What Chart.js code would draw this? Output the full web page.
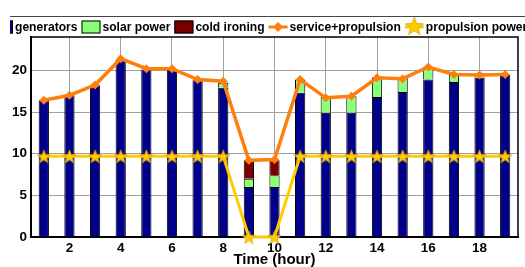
<!DOCTYPE html>
<html>
<head>
<meta charset="utf-8">
<script src="https://cdn.jsdelivr.net/npm/chart.js@4"></script>
<style>
html, body { margin: 0; padding: 0; background: #fff; }
#wrap { width: 525px; height: 267px; }
</style>
</head>
<body>
<div id="wrap"><canvas id="myChart" width="525" height="267"></canvas></div>
<script>
'use strict';
let hours = ['1', '2', '3', '4', '5', '6', '7', '8', '9', '10', '11', '12', '13', '14', '15', '16', '17', '18', '19'];
let generators = [16.4, 17.0, 18.2, 21.3, 20.1, 20.2, 18.8, 17.9, 6.0, 6.0, 17.3, 14.9, 14.9, 16.8, 17.4, 18.9, 18.6, 19.1, 19.5];
let solarPower = [0, 0, 0, 0, 0, 0, 0, 0.6, 1.0, 1.4, 1.6, 1.9, 2.0, 2.3, 1.7, 1.5, 0.9, 0.3, 0];
let coldIroning = [0, 0, 0, 0, 0, 0, 0, 0, 2.2, 1.8, 0, 0, 0, 0, 0, 0, 0, 0, 0];
let servicePropulsion = [16.4, 17.0, 18.25, 21.4, 20.2, 20.2, 18.9, 18.7, 9.2, 9.3, 18.9, 16.7, 16.9, 19.1, 19.0, 20.4, 19.5, 19.45, 19.5];
let propulsionPower = [9.7, 9.7, 9.7, 9.7, 9.7, 9.7, 9.7, 9.7, 0, 0, 9.7, 9.7, 9.7, 9.7, 9.7, 9.7, 9.7, 9.7, 9.7];
let yTicks = [0, 5, 10, 15, 20];

Chart.defaults.font.family = '"Liberation Sans", Arial, sans-serif';
Chart.defaults.color = '#000';

function makeStar(size, fill, stroke) {
    let c = document.createElement('canvas');
    c.width = size;
    c.height = size;
    let g = c.getContext('2d');
    let r = size / 2 - 0.5;
    let r2 = r * 0.42;
    g.beginPath();
    for (let i = 0; i < 10; i++) {
        let a = -Math.PI / 2 + i * Math.PI / 5;
        let rr = i % 2 ? r2 : r;
        g.lineTo(size / 2 + rr * Math.cos(a), size / 2 + rr * Math.sin(a) + 0.8);
    }
    g.closePath();
    g.fillStyle = fill;
    g.fill();
    g.strokeStyle = stroke;
    g.lineWidth = 0.8;
    g.stroke();
    return c;
}
let starImg = makeStar(15, '#ffcc00', '#d9a300');

// legend drawn on the canvas so the items can run off the edges like the original
let legendPlugin = {
    id: 'oldLegend',
    afterDraw(chart) {
        let ctx = chart.ctx;
        ctx.save();
        ctx.strokeStyle = '#444';
        ctx.lineWidth = 1;
        ctx.beginPath();
        ctx.moveTo(10, 16.5);
        ctx.lineTo(525, 16.5);
        ctx.stroke();
        ctx.beginPath();
        ctx.rect(10, 17, 515, 19);
        ctx.clip();
        ctx.font = 'bold 12.1px "Liberation Sans", Arial, sans-serif';
        ctx.textBaseline = 'middle';
        let x = -6;
        let cy = 27;
        chart.data.datasets.forEach(function (ds) {
            if (ds.type === 'line') {
                ctx.strokeStyle = ds.borderColor;
                ctx.lineWidth = 3;
                ctx.beginPath();
                ctx.moveTo(x, cy);
                ctx.lineTo(x + 19, cy);
                ctx.stroke();
                if (ds.pointStyle === 'rectRot') {
                    ctx.fillStyle = ds.borderColor;
                    ctx.beginPath();
                    ctx.moveTo(x + 9.5, cy - 5);
                    ctx.lineTo(x + 14.5, cy);
                    ctx.lineTo(x + 9.5, cy + 5);
                    ctx.lineTo(x + 4.5, cy);
                    ctx.closePath();
                    ctx.fill();
                } else {
                    let big = makeStar(20, '#ffcc00', '#d9a300');
                    ctx.drawImage(big, x - 0.5, cy - 11);
                }
            } else {
                ctx.fillStyle = ds.backgroundColor;
                ctx.fillRect(x, cy - 6.5, 19, 13);
                ctx.strokeStyle = '#000';
                ctx.lineWidth = 1;
                ctx.strokeRect(x + 0.5, cy - 6, 18, 12);
            }
            x += 21;
            ctx.fillStyle = '#000';
            ctx.fillText(ds.label, x, cy + 0.5);
            x += ctx.measureText(ds.label).width + 4;
        });
        ctx.restore();

        // frame top and right
        let a = chart.chartArea;
        ctx.save();
        ctx.strokeStyle = '#000';
        ctx.lineWidth = 1.5;
        ctx.beginPath();
        ctx.moveTo(a.left, a.top);
        ctx.lineTo(a.right, a.top);
        ctx.lineTo(a.right, a.bottom);
        ctx.stroke();
        ctx.restore();
    }
};

let ctx = document.getElementById('myChart').getContext('2d');
let myChart = new Chart(ctx, {
    type: 'bar',
    data: {
        labels: hours,
        datasets: [{
            label: 'generators',
            data: generators,
            backgroundColor: '#00008b',
            borderColor: '#000',
            borderWidth: 1,
            stack: 'bars',
            order: 2
        }, {
            label: 'solar power',
            data: solarPower,
            backgroundColor: '#8cff78',
            borderColor: '#000',
            borderWidth: 1,
            stack: 'bars',
            order: 2
        }, {
            label: 'cold ironing',
            data: coldIroning,
            backgroundColor: '#7a0000',
            borderColor: '#000',
            borderWidth: 1,
            stack: 'bars',
            order: 2
        }, {
            type: 'line',
            label: 'service+propulsion',
            data: servicePropulsion,
            borderColor: '#ff7f0e',
            backgroundColor: '#ff7f0e',
            borderWidth: 3.5,
            pointStyle: 'rectRot',
            pointRadius: 4.5,
            pointBorderWidth: 0,
            tension: 0,
            stack: 'sp',
            order: 1
        }, {
            type: 'line',
            label: 'propulsion power',
            data: propulsionPower,
            borderColor: '#ffcc00',
            backgroundColor: '#ffcc00',
            borderWidth: 3,
            pointStyle: starImg,
            tension: 0,
            clip: false,
            stack: 'pp',
            order: 0
        }]
    },
    options: {
        responsive: false,
        animation: false,
        layout: { padding: { top: 37, right: 2, left: 0, bottom: 0 } },
        plugins: {
            legend: { display: false },
            tooltip: { enabled: false }
        },
        datasets: {
            bar: { categoryPercentage: 1, barPercentage: 0.4 }
        },
        scales: {
            x: {
                stacked: true,
                grid: {
                    offset: false,
                    drawTicks: false,
                    color: function (c) { return c.index % 2 === 1 ? '#a0a0a0' : 'rgba(0,0,0,0)'; }
                },
                border: { color: '#000', width: 2 },
                ticks: {
                    autoSkip: false,
                    maxRotation: 0,
                    padding: 3,
                    font: { size: 13.5, weight: 'bold' },
                    callback: function (v, i) { return i % 2 === 1 ? hours[i] : ''; }
                },
                title: {
                    display: true,
                    text: 'Time (hour)',
                    font: { size: 15, weight: 'bold', lineHeight: 1 },
                    padding: { top: 0, bottom: 0 }
                },
                afterFit: function (axis) { axis.height = 30; }
            },
            y: {
                stacked: true,
                min: 0,
                max: 24,
                grid: { drawTicks: false, color: '#a0a0a0' },
                border: { color: '#000', width: 2 },
                ticks: {
                    padding: 4,
                    font: { size: 13.5, weight: 'bold' }
                },
                afterBuildTicks: function (axis) {
                    axis.ticks = yTicks.map(function (v) { return { value: v }; });
                },
                afterFit: function (axis) { axis.width = 31; }
            }
        }
    },
    plugins: [legendPlugin]
});
</script>
</body>
</html>
